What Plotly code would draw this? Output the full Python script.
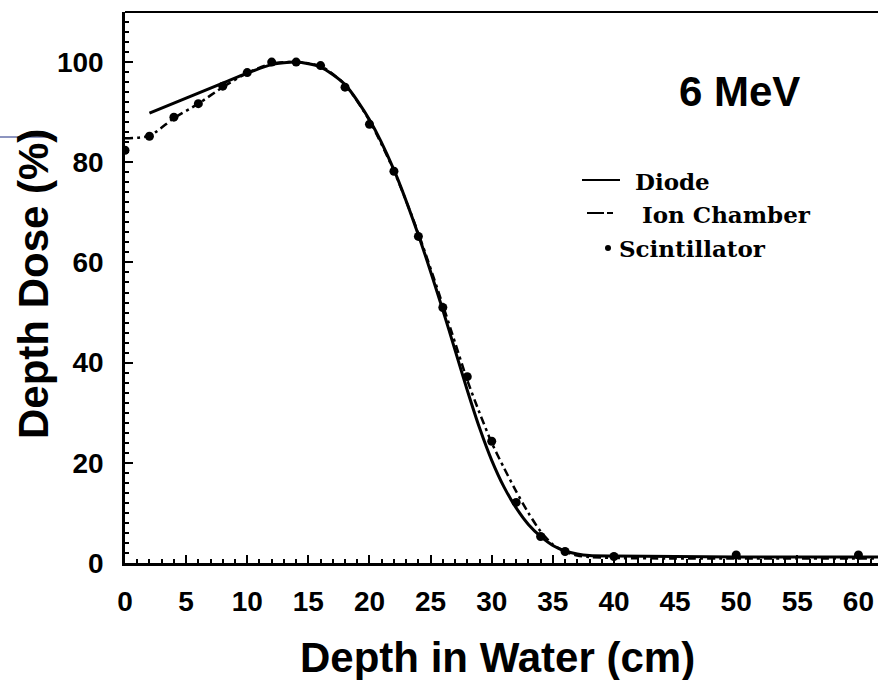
import plotly.graph_objects as go

# ---- data ----
depth_diode = [2, 4, 6, 8, 10, 12, 14, 16, 18, 20, 22, 24, 26, 27, 28, 29, 30, 31, 32, 33, 34, 35, 36, 37, 38, 40, 45, 50, 55, 61.6]
dose_diode = [89.8, 91.8, 93.8, 95.8, 97.8, 99.5, 100, 99.0, 95.5, 88.5, 78.5, 65.5, 50.5, 42.5, 34.5, 27.0, 20.5, 15.2, 11.0, 7.7, 5.3, 3.5, 2.4, 1.8, 1.5, 1.4, 1.3, 1.2, 1.2, 1.2]

depth_ion = [0, 2, 4, 6, 8, 10, 12, 14, 16, 18, 20, 22, 24, 26, 27, 28, 29, 30, 31, 32, 33, 34, 35, 36, 37, 38, 40, 45, 50, 55, 61.6]
dose_ion = [84.8, 85.3, 88.8, 91.7, 95.0, 97.8, 99.7, 100, 99.2, 95.5, 88.3, 78.3, 65.8, 51.5, 44.0, 36.5, 30.0, 24.0, 19.0, 14.3, 10.0, 6.3, 3.7, 2.3, 1.5, 1.2, 1.0, 0.9, 0.9, 0.9, 0.9]

depth_scint = [0, 2, 4, 6, 8, 10, 12, 14, 16, 18, 20, 22, 24, 26, 28, 30, 32, 34, 36, 40, 50, 60]
dose_scint = [82.4, 85.2, 89.0, 91.7, 95.2, 97.9, 100, 100, 99.3, 95.0, 87.6, 78.2, 65.2, 51.0, 37.2, 24.3, 12.1, 5.3, 2.3, 1.3, 1.6, 1.6]

x_title = "Depth in Water (cm)"
y_title = "Depth Dose (%)"
energy_label = "6 MeV"
legend_labels = ["Diode", "Ion Chamber", "Scintillator"]

# ---- layout geometry (pixels) ----
W, H = 878, 680
L, R, T, B = 125, 878, 12, 563


def px(xpix):
    return (xpix - L) / (R - L)


def py(ypix):
    return (B - ypix) / (B - T)


fig = go.Figure()
fig.add_trace(go.Scatter(x=depth_diode, y=dose_diode, mode="lines",
                         line=dict(color="black", width=3, shape="spline", smoothing=0.7),
                         showlegend=False))
fig.add_trace(go.Scatter(x=depth_ion, y=dose_ion, mode="lines",
                         line=dict(color="black", width=2.5, dash="8px,4px,3px,4px",
                                   shape="spline", smoothing=0.7),
                         showlegend=False))
fig.add_trace(go.Scatter(x=depth_scint, y=dose_scint, mode="markers",
                         marker=dict(color="black", size=9),
                         showlegend=False))

tickfont = dict(family="Liberation Sans, Arial", size=28, color="black", weight="bold")
fig.update_xaxes(range=[0, 61.6], showline=True, linewidth=2.5, linecolor="black",
                 ticks="inside", ticklen=8, tickwidth=2, tickcolor="black",
                 tick0=0, dtick=5, showgrid=False, zeroline=False,
                 tickfont=tickfont, ticklabelstandoff=12,
                 minor=dict(ticks="inside", ticklen=4, tickwidth=1.5, tickcolor="black", dtick=1, showgrid=False))
fig.update_yaxes(range=[0, 110], showline=True, linewidth=2.5, linecolor="black",
                 ticks="inside", ticklen=8, tickwidth=2, tickcolor="black",
                 tick0=0, dtick=20, showgrid=False, zeroline=False,
                 tickfont=tickfont, ticklabelstandoff=13,
                 minor=dict(ticks="inside", ticklen=4, tickwidth=1.5, tickcolor="black", dtick=2, showgrid=False))

title_font = dict(family="Liberation Sans, Arial", size=42, color="black", weight="bold")
legend_font = dict(family="DejaVu Serif", size=23, color="black", weight="bold")

annotations = [
    dict(text=x_title, x=px(497), y=py(657), xref="paper", yref="paper",
         xanchor="center", yanchor="middle", showarrow=False, font=title_font),
    dict(text=y_title, x=px(33), y=py(284), xref="paper", yref="paper", textangle=-90,
         xanchor="center", yanchor="middle", showarrow=False, font=title_font),
    dict(text=energy_label, x=px(739), y=py(92), xref="paper", yref="paper",
         xanchor="center", yanchor="middle", showarrow=False, font=title_font),
    dict(text=legend_labels[0], x=px(633), y=py(182), xref="paper", yref="paper",
         xanchor="left", yanchor="middle", showarrow=False, font=legend_font),
    dict(text=legend_labels[1], x=px(640), y=py(214), xref="paper", yref="paper",
         xanchor="left", yanchor="middle", showarrow=False, font=legend_font),
    dict(text=legend_labels[2], x=px(617), y=py(248), xref="paper", yref="paper",
         xanchor="left", yanchor="middle", showarrow=False, font=legend_font),
]

shapes = [
    # top frame line
    dict(type="line", xref="paper", yref="paper", x0=0, x1=1, y0=1, y1=1,
         line=dict(color="black", width=2)),
    # legend samples
    dict(type="line", xref="paper", yref="paper", x0=px(582), x1=px(620), y0=py(180), y1=py(180),
         line=dict(color="black", width=2)),
    dict(type="line", xref="paper", yref="paper", x0=px(587), x1=px(604), y0=py(213), y1=py(213),
         line=dict(color="black", width=2)),
    dict(type="line", xref="paper", yref="paper", x0=px(607), x1=px(613), y0=py(213), y1=py(213),
         line=dict(color="black", width=2)),
    dict(type="circle", xref="paper", yref="paper", x0=px(605), x1=px(611), y0=py(245), y1=py(251),
         fillcolor="black", line=dict(color="black", width=0)),
    # stray blue scan line at left edge
    dict(type="line", xref="paper", yref="paper", x0=px(0), x1=px(48), y0=py(137), y1=py(137),
         line=dict(color="#1a2a80", width=1)),
]

fig.update_layout(width=W, height=H, margin=dict(l=L, r=W - R, t=T, b=H - B),
                  plot_bgcolor="white", paper_bgcolor="white",
                  annotations=annotations, shapes=shapes, showlegend=False)

fig.write_html("out.html")
